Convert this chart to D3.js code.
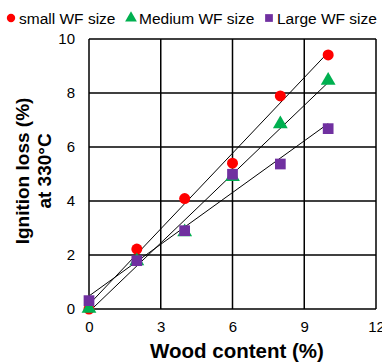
<!DOCTYPE html>
<html>
<head>
<meta charset="utf-8">
<script src="https://cdn.jsdelivr.net/npm/d3@7"></script>
<style>
	body { margin: 0; background: #fff; }
	text { font-family: "Liberation Sans", Arial, sans-serif; }
</style>
</head>
<body>
<svg id="chart" width="382" height="363"></svg>
<script>
// data
const woodContent = [0, 2, 4, 6, 8, 10];
const smallWF = [0.0, 2.22, 4.09, 5.4, 7.89, 9.41];
const mediumWF = [0.02, 1.78, 2.85, 4.9, 6.85, 8.46];
const largeWF = [0.31, 1.79, 2.9, 4.99, 5.37, 6.68];
const seriesNames = ["small WF size", "Medium WF size", "Large WF size"];
const xTicks = [0, 3, 6, 9, 12];
const yTicks = [0, 2, 4, 6, 8, 10];

const width = 382,
	height = 363;
const margin = { top: 39, right: 6, bottom: 54, left: 89 };

const svg = d3.select("#chart");

const x = d3.scaleLinear().domain([0, 12]).range([margin.left, width - margin.right]);
const y = d3.scaleLinear().domain([0, 10]).range([height - margin.bottom, margin.top]);

const colors = ["#ff0000", "#00b050", "#7030a0"];
const symbols = [d3.symbolCircle, d3.symbolTriangle, d3.symbolSquare];
const sizes = [95, 95, 115];

const series = [smallWF, mediumWF, largeWF].map((vals, i) => ({
	name: seriesNames[i],
	color: colors[i],
	symbol: symbols[i],
	size: sizes[i],
	points: woodContent.map((w, j) => ({ x: w, y: vals[j] }))
}));

// grid
svg.append("g")
	.selectAll("line")
	.data(xTicks)
	.join("line")
	.attr("x1", (d) => x(d))
	.attr("x2", (d) => x(d))
	.attr("y1", y(0))
	.attr("y2", y(10))
	.attr("stroke", "#000")
	.attr("stroke-width", 1.5);

svg.append("g")
	.selectAll("line")
	.data(yTicks)
	.join("line")
	.attr("x1", x(0))
	.attr("x2", x(12))
	.attr("y1", (d) => y(d))
	.attr("y2", (d) => y(d))
	.attr("stroke", "#000")
	.attr("stroke-width", 1.5);

// axes (labels only)
const xAxis = svg.append("g")
	.attr("transform", `translate(0,${y(0)})`)
	.call(d3.axisBottom(x).tickValues(xTicks).tickSize(0).tickPadding(12));
xAxis.select(".domain").remove();
xAxis.selectAll("text").style("font-size", "15px").attr("fill", "#000");

const yAxis = svg.append("g")
	.attr("transform", `translate(${x(0)},0)`)
	.call(d3.axisLeft(y).tickValues(yTicks).tickSize(0).tickPadding(14));
yAxis.select(".domain").remove();
yAxis.selectAll("text").style("font-size", "15px").attr("fill", "#000");

// linear trend lines (least squares) from x=0 to x=10
function fit(points) {
	const mx = d3.mean(points, (d) => d.x),
		my = d3.mean(points, (d) => d.y);
	const sxy = d3.sum(points, (d) => (d.x - mx) * (d.y - my));
	const sxx = d3.sum(points, (d) => (d.x - mx) ** 2);
	const b = sxy / sxx;
	return { a: my - b * mx, b: b };
}

svg.append("g")
	.selectAll("line")
	.data(series)
	.join("line")
	.attr("x1", x(0))
	.attr("x2", x(10))
	.attr("y1", (d) => y(fit(d.points).a))
	.attr("y2", (d) => y(fit(d.points).a + fit(d.points).b * 10))
	.attr("stroke", "#000")
	.attr("stroke-width", 1);

// markers
const marks = svg.append("g");
series.forEach((s) => {
	marks.append("g")
		.selectAll("path")
		.data(s.points)
		.join("path")
		.attr("transform", (d) => `translate(${x(d.x)},${y(d.y)})`)
		.attr("d", d3.symbol().type(s.symbol).size(s.size))
		.attr("fill", s.color);
});

// legend
const legendX = [11, 131, 269];
const legend = svg.append("g");
series.forEach((s, i) => {
	legend.append("path")
		.attr("transform", `translate(${legendX[i]},18)`)
		.attr("d", d3.symbol().type(s.symbol).size(i === 0 ? 55 : 60))
		.attr("fill", s.color);
	legend.append("text")
		.attr("x", legendX[i] + 8)
		.attr("y", 23.5)
		.style("font-size", "15.5px")
		.text(s.name);
});

// axis titles
svg.append("text")
	.attr("x", 237)
	.attr("y", 358)
	.attr("text-anchor", "middle")
	.style("font-size", "20.5px")
	.style("font-weight", "bold")
	.text("Wood content (%)");

const yTitle = svg.append("text")
	.attr("transform", "translate(29,171) rotate(-90)")
	.attr("text-anchor", "middle")
	.style("font-size", "19px")
	.style("font-weight", "bold");
yTitle.append("tspan").attr("x", 0).attr("dy", 0).text("Ignition loss (%)");
yTitle.append("tspan").attr("x", 0).attr("dy", 22).text("at 330°C");
</script>
</body>
</html>
